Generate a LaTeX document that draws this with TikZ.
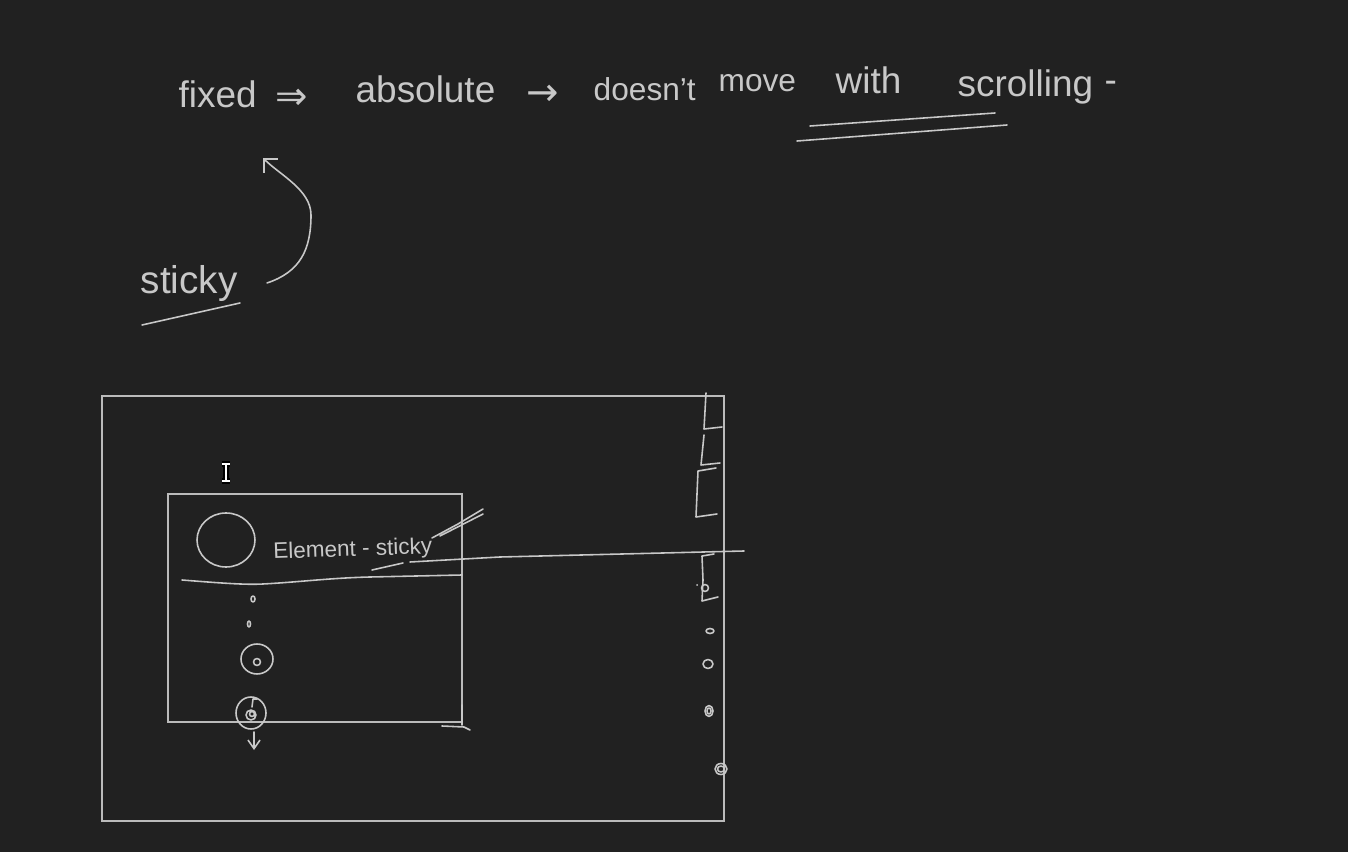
\documentclass[tikz,border=0pt]{standalone}
\usepackage{fontspec}
\setmainfont{Liberation Sans}
\newfontfamily\arrowfont{DejaVu Sans}
\usetikzlibrary{arrows.meta}
\definecolor{board}{HTML}{212121}
\definecolor{chalk}{HTML}{C8C8C8}
\definecolor{frameline}{HTML}{BBBBBB}

\begin{document}
\begin{tikzpicture}[x=0.01cm, y=-0.01cm,
    ink/.style={draw=chalk, line width=0.45pt, line cap=round, line join=round},
    word/.style={text=chalk, inner sep=0pt, anchor=base west, font=\fontsize{10.5}{12}\selectfont},
    smallword/.style={word, font=\fontsize{9}{11}\selectfont}]
    \fill[board] (0,0) rectangle (1348,852);
    \useasboundingbox (0,0) rectangle (1348,852);

    \node[word] (fixed) at (178,108) {fixed};
    \node[word, anchor=center, font=\arrowfont\fontsize{11}{12}\selectfont] (implies) at (292,99) {⇒};
    \node[word] (absolute) at (355,103) {absolute};
    \node[word, anchor=center, font=\arrowfont\fontsize{11}{12}\selectfont] (to) at (543,95) {→};
    \node[smallword] (doesnt) at (593,101) {doesn't};
    \node[smallword] (move) at (718,92) {move};
    \node[word] (with) at (835,94) {with};
    \node[word] (scrolling) at (957,97) {scrolling};
    \node[word] (dash) at (1104,93) {-};
    \draw[ink] (810,126) -- (995,113)
    (797,141) -- (1007,125);

    \node[word, font=\fontsize{11}{13}\selectfont] (sticky) at (140,294) {sticky};
    \draw[ink] (142,325) -- (240,303);
    \coordinate (curlfoot) at (267,283);
    \coordinate (curltip) at (263,158);
    \draw[ink, -{Straight Barb[angle=90:4pt]}] (curlfoot) .. controls (300,272) and (311,250) .. (311,215)
    .. controls (311,190) and (280,175) .. (curltip);

    \draw[frameline, line width=0.5pt] (102,396) rectangle (724,821);
    \draw[frameline, line width=0.5pt] (168,494) rectangle (462,722);
    \draw[white, line width=0.8pt, preaction={draw=black, line width=1.8pt}] (226,464) -- (226,481)
    (222,464) -- (230,464) (222,481) -- (230,481);

    \draw[ink] (226,540) ellipse [x radius=29, y radius=27];
    \node[word, rotate=2, font=\fontsize{6.4}{8}\selectfont] (element) at (273,559) {Element - sticky};
    \draw[ink] (182,580) .. controls (220,583) and (245,585) .. (263,584)
    .. controls (300,582) and (330,578) .. (370,577) -- (462,575);
    \draw[ink] (372,570) -- (403,563);
    \draw[ink] (410,562) -- (500,557) -- (744,551);
    \draw[ink] (432,538) -- (458,524) -- (483,509)
    (440,536) -- (483,514);

    \draw[ink] (253,599) ellipse [x radius=2, y radius=3];
    \draw[ink] (249,624) ellipse [x radius=1.5, y radius=3];
    \draw[ink] (257,659) ellipse [x radius=16, y radius=15];
    \draw[ink] (257,662) circle [radius=3.5];
    \draw[ink] (251,713) ellipse [x radius=15, y radius=16];
    \draw[ink] (251,715) circle [radius=5] (252,714) circle [radius=2.5];
    \draw[ink] (253,699) -- (257,699) (253,699) -- (252,707);
    \coordinate (dropstart) at (254,732);
    \coordinate (dropend) at (254,750);
    \draw[ink, -{Straight Barb[angle=70:3pt]}] (dropstart) -- (dropend);
    \draw[ink] (462,705) -- (462,725)
    (442,726) -- (464,727) -- (470,730);

    \draw[ink] (706,393) -- (704,429) -- (722,427);
    \draw[ink] (704,435) -- (701,465) -- (720,463);
    \draw[ink] (716,468) -- (698,471) -- (696,517) -- (717,514);
    \draw[ink] (714,554) -- (702,556) -- (703,580) -- (702,601) -- (718,597);
    \draw[ink] (705,588) circle [radius=3.5];
    \fill[chalk] (697,585) circle [radius=1];
    \draw[ink] (710,631) ellipse [x radius=4, y radius=2.5];
    \draw[ink] (708,664) ellipse [x radius=5, y radius=4.5];
    \draw[ink] (709,711) ellipse [x radius=4, y radius=5.5];
    \draw[ink] (709,711) ellipse [x radius=2, y radius=3];
    \draw[ink] (721,769) ellipse [x radius=6, y radius=5.5];
    \draw[ink] (721,769) ellipse [x radius=3.5, y radius=3];
\end{tikzpicture}
\end{document}
